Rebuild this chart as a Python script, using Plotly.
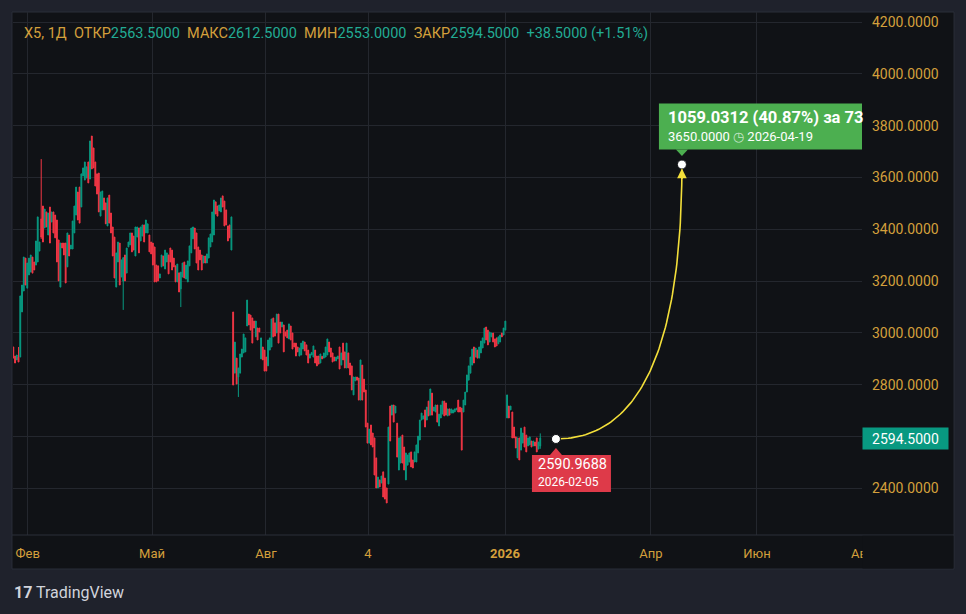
import plotly.graph_objects as go

# ---------------- data ----------------
opens = [2946, 2911, 2896, 2907, 2907, 3081, 3162, 3289, 3173, 3224,
         3235, 3293, 3274, 3262, 3274, 3316, 3440, 3490, 3405, 3467,
         3378, 3486, 3428, 3467, 3455, 3436, 3359, 3177, 3347, 3347,
         3347, 3255, 3378, 3324, 3324, 3386, 3455, 3544, 3563, 3486,
         3606, 3590, 3598, 3660, 3594, 3760, 3714, 3660, 3614, 3617,
         3451, 3475, 3521, 3502, 3413, 3532, 3463, 3409, 3370, 3177,
         3274, 3347, 3216, 3200, 3301, 3231, 3332, 3340, 3386, 3374,
         3297, 3370, 3405, 3355, 3374, 3417, 3386, 3386, 3378, 3351,
         3347, 3332, 3262, 3259, 3212, 3255, 3297, 3247, 3274, 3301,
         3328, 3320, 3289, 3259, 3197, 3232, 3170, 3216, 3274, 3208,
         3197, 3259, 3309, 3363, 3405, 3386, 3332, 3320, 3301, 3270,
         3297, 3270, 3289, 3332, 3351, 3378, 3506, 3490, 3471, 3467,
         3529, 3509, 3475, 3413, 3417, 3320, 3081, 2845, 2903, 2830,
         2845, 2907, 2923, 2927, 3027, 3073, 3069, 3058, 3046, 2985,
         3019, 3019, 2900, 2946, 2934, 2907, 2873, 2934, 2946, 3058,
         3039, 3000, 3073, 3042, 3023, 3031, 3004, 3011, 2977, 3027,
         3000, 2961, 2961, 2946, 2911, 2915, 2938, 2965, 2954, 2934,
         2903, 2915, 2907, 2934, 2911, 2911, 2884, 2910, 2903, 2907,
         2915, 2965, 2942, 2923, 2907, 2892, 2900, 2946, 2876, 2961,
         2927, 2865, 2923, 2884, 2873, 2761, 2815, 2830, 2826, 2741,
         2876, 2822, 2780, 2652, 2575, 2645, 2614, 2595, 2518, 2402,
         2433, 2421, 2464, 2440, 2402, 2417, 2718, 2683, 2722, 2691,
         2652, 2471, 2498, 2606, 2560, 2433, 2490, 2502, 2541, 2510,
         2502, 2502, 2537, 2587, 2664, 2668, 2703, 2664, 2737, 2683,
         2768, 2699, 2695, 2722, 2641, 2672, 2687, 2737, 2730, 2680,
         2707, 2691, 2691, 2695, 2703, 2741, 2714, 2710, 2695, 2722,
         2772, 2818, 2845, 2876, 2946, 2907, 2934, 2903, 2923, 2942,
         2961, 3023, 3011, 2965, 2985, 3000, 2977, 2981, 2958, 2965,
         3000, 2992, 3011,
         2672, 2718, 2703, 2695, 2637, 2599, 2518, 2595, 2548, 2575,
         2637, 2606, 2564, 2568, 2583, 2564, 2579, 2595, 2552, 2563.5]

highs = [2946, 2911, 2915, 2946, 3143, 3185, 3293, 3289, 3270, 3289,
         3301, 3293, 3274, 3355, 3448, 3351, 3671, 3490, 3478, 3467,
         3463, 3486, 3467, 3467, 3455, 3436, 3359, 3347, 3347, 3347,
         3347, 3386, 3378, 3339, 3432, 3490, 3563, 3544, 3563, 3614,
         3637, 3660, 3641, 3660, 3741, 3760, 3714, 3660, 3614, 3617,
         3544, 3548, 3521, 3502, 3521, 3532, 3463, 3409, 3370, 3309,
         3351, 3347, 3282, 3293, 3301, 3328, 3351, 3386, 3386, 3374,
         3409, 3409, 3405, 3409, 3417, 3417, 3436, 3421, 3378, 3351,
         3347, 3332, 3262, 3259, 3228, 3301, 3297, 3320, 3309, 3301,
         3328, 3320, 3289, 3259, 3266, 3232, 3235, 3270, 3274, 3262,
         3278, 3336, 3405, 3409, 3405, 3386, 3332, 3320, 3301, 3297,
         3297, 3305, 3367, 3382, 3467, 3513, 3506, 3490, 3494, 3521,
         3529, 3509, 3475, 3413, 3417, 3448, 3081, 2965, 2903, 2865,
         2919, 2938, 2996, 2981, 3127, 3073, 3069, 3058, 3046, 3046,
         3019, 3019, 2981, 2946, 2934, 2907, 2973, 2981, 3054, 3058,
         3039, 3073, 3073, 3042, 3042, 3031, 3004, 3011, 3035, 3027,
         3000, 2961, 2961, 2946, 2942, 2961, 2969, 2965, 2954, 2934,
         2919, 2925, 2950, 2934, 2911, 2911, 2919, 2910, 2923, 2946,
         2977, 2965, 2942, 2923, 2907, 2907, 2911, 2946, 2923, 2961,
         2927, 2961, 2923, 2884, 2873, 2830, 2830, 2830, 2826, 2896,
         2876, 2822, 2780, 2652, 2629, 2645, 2614, 2595, 2518, 2444,
         2433, 2448, 2464, 2440, 2402, 2637, 2718, 2722, 2722, 2718,
         2652, 2595, 2599, 2606, 2560, 2537, 2529, 2537, 2541, 2510,
         2541, 2568, 2602, 2664, 2691, 2680, 2703, 2714, 2737, 2784,
         2768, 2714, 2722, 2722, 2687, 2722, 2737, 2737, 2730, 2707,
         2707, 2707, 2703, 2707, 2710, 2741, 2714, 2710, 2741, 2772,
         2838, 2873, 2907, 2938, 2946, 2942, 2934, 2946, 2969, 2981,
         3019, 3023, 3011, 3004, 3000, 3000, 2977, 2981, 2985, 2992,
         3000, 3019, 3046,
         2761, 2718, 2718, 2695, 2637, 2599, 2595, 2595, 2633, 2614,
         2637, 2606, 2595, 2599, 2583, 2583, 2579, 2595, 2579, 2612.5]

lows = [2903, 2884, 2896, 2888, 2907, 3081, 3162, 3185, 3173, 3224,
        3235, 3231, 3243, 3262, 3274, 3316, 3363, 3351, 3405, 3409,
        3378, 3347, 3428, 3386, 3367, 3274, 3201, 3177, 3328, 3301,
        3193, 3255, 3297, 3324, 3324, 3386, 3455, 3436, 3424, 3486,
        3606, 3590, 3598, 3579, 3594, 3633, 3637, 3567, 3536, 3467,
        3451, 3475, 3475, 3421, 3413, 3424, 3386, 3297, 3212, 3177,
        3274, 3185, 3216, 3089, 3201, 3231, 3332, 3340, 3313, 3320,
        3297, 3370, 3309, 3355, 3374, 3351, 3386, 3386, 3313, 3305,
        3262, 3197, 3197, 3201, 3212, 3255, 3259, 3247, 3274, 3228,
        3274, 3243, 3255, 3197, 3197, 3158, 3100, 3216, 3212, 3208,
        3197, 3259, 3309, 3363, 3324, 3270, 3243, 3282, 3243, 3270,
        3270, 3270, 3289, 3332, 3351, 3378, 3459, 3451, 3471, 3467,
        3486, 3413, 3417, 3355, 3367, 3320, 2799, 2845, 2803, 2753,
        2845, 2907, 2923, 2927, 3027, 3031, 3011, 2961, 3019, 2985,
        2973, 3004, 2900, 2896, 2853, 2853, 2873, 2934, 2946, 2985,
        2988, 3000, 2961, 3000, 3023, 2927, 2988, 2981, 2977, 2973,
        2938, 2946, 2911, 2927, 2911, 2915, 2938, 2931, 2915, 2884,
        2903, 2915, 2907, 2884, 2873, 2880, 2884, 2900, 2903, 2907,
        2915, 2927, 2907, 2888, 2892, 2892, 2900, 2861, 2876, 2896,
        2865, 2865, 2865, 2838, 2780, 2761, 2815, 2818, 2741, 2741,
        2741, 2772, 2637, 2575, 2575, 2568, 2560, 2452, 2402, 2402,
        2406, 2421, 2367, 2359, 2344, 2417, 2583, 2683, 2656, 2691,
        2521, 2471, 2498, 2498, 2471, 2433, 2490, 2502, 2483, 2479,
        2502, 2502, 2537, 2587, 2664, 2668, 2637, 2664, 2680, 2683,
        2683, 2699, 2695, 2656, 2641, 2672, 2687, 2680, 2683, 2680,
        2683, 2691, 2691, 2695, 2703, 2695, 2695, 2548, 2695, 2722,
        2772, 2818, 2845, 2876, 2884, 2907, 2903, 2903, 2923, 2942,
        2961, 2973, 2954, 2965, 2985, 2965, 2946, 2950, 2958, 2965,
        2985, 2992, 3011,
        2672, 2672, 2703, 2595, 2595, 2556, 2518, 2510, 2548, 2575,
        2560, 2541, 2564, 2568, 2560, 2564, 2564, 2541, 2552, 2553]

closes = [2903, 2884, 2915, 2888, 3143, 3185, 3293, 3185, 3270, 3289,
          3301, 3231, 3243, 3355, 3448, 3351, 3370, 3351, 3478, 3409,
          3463, 3347, 3467, 3386, 3367, 3274, 3201, 3347, 3328, 3301,
          3193, 3386, 3297, 3339, 3432, 3490, 3563, 3436, 3424, 3614,
          3637, 3660, 3641, 3579, 3741, 3633, 3637, 3567, 3536, 3467,
          3544, 3548, 3475, 3421, 3521, 3424, 3386, 3297, 3212, 3309,
          3351, 3185, 3282, 3290, 3201, 3328, 3351, 3386, 3313, 3320,
          3409, 3409, 3309, 3409, 3417, 3351, 3436, 3421, 3313, 3305,
          3262, 3197, 3197, 3201, 3228, 3301, 3259, 3320, 3309, 3228,
          3274, 3243, 3255, 3197, 3266, 3158, 3235, 3270, 3212, 3262,
          3278, 3336, 3405, 3409, 3324, 3270, 3243, 3282, 3243, 3297,
          3270, 3305, 3367, 3382, 3467, 3513, 3459, 3451, 3494, 3521,
          3486, 3413, 3417, 3355, 3367, 3448, 2799, 2965, 2803, 2865,
          2919, 2938, 2996, 2981, 3127, 3031, 3011, 2961, 3019, 3046,
          2973, 3004, 2981, 2896, 2853, 2853, 2973, 2981, 3054, 2985,
          2988, 3073, 2961, 3000, 3042, 2927, 2988, 2981, 3035, 2973,
          2938, 2946, 2911, 2927, 2942, 2961, 2969, 2931, 2915, 2884,
          2919, 2925, 2950, 2884, 2873, 2880, 2919, 2900, 2923, 2946,
          2977, 2927, 2907, 2888, 2892, 2907, 2911, 2861, 2923, 2896,
          2865, 2961, 2865, 2838, 2780, 2830, 2830, 2818, 2741, 2896,
          2741, 2772, 2637, 2575, 2629, 2568, 2560, 2452, 2402, 2444,
          2406, 2448, 2367, 2359, 2344, 2637, 2583, 2722, 2656, 2718,
          2521, 2595, 2599, 2498, 2471, 2537, 2529, 2537, 2483, 2479,
          2541, 2568, 2602, 2664, 2691, 2680, 2637, 2714, 2680, 2784,
          2683, 2714, 2722, 2656, 2687, 2722, 2737, 2680, 2683, 2707,
          2683, 2707, 2703, 2707, 2710, 2695, 2695, 2548, 2741, 2772,
          2838, 2873, 2907, 2938, 2884, 2942, 2903, 2946, 2969, 2981,
          3019, 2973, 2954, 3004, 3000, 2965, 2946, 2950, 2985, 2992,
          2985, 3019, 3046,
          2761, 2672, 2718, 2595, 2595, 2556, 2595, 2510, 2633, 2614,
          2560, 2541, 2595, 2599, 2560, 2583, 2564, 2541, 2579, 2594.5]

# time-axis labels (bar-index positions) and price ticks
time_tick_pos = [8.25, 79.5, 144.8, 203.3, 281.8, 365.4, 426.2, 486.2]
time_tick_text = ["Фев", "Май", "Авг", "4", "<b>2026</b>", "Апр", "Июн", "Авг"]
price_ticks = [2400, 2600, 2800, 3000, 3200, 3400, 3600, 3800, 4000, 4200]

symbol = "X5, 1Д"
last_change = 38.5
last_change_pct = 1.51

# curve drawing anchors
start_idx, start_price, start_date = 311.0, 2590.9688, "2026-02-05"
end_idx, end_price, end_date = 383.2, 3650.0, "2026-04-19"
move_abs, move_pct, move_days = 1059.0312, 40.87, 73

# ---------------- styling ----------------
UP = "#089981"
DOWN = "#f23645"
AMBER = "#d4a03c"
TEAL = "#22ab94"
PANE = "#101216"
OUTER = "#1f222c"
GRID = "#24272e"
BORDER = "#2a2e39"
YELLOW = "#f3df3a"
FONT = "Roboto"

x_idx = list(range(len(opens)))

fig = go.Figure()
fig.add_trace(go.Candlestick(
    x=x_idx, open=opens, high=highs, low=lows, close=closes,
    increasing=dict(line=dict(color=UP, width=1), fillcolor=UP),
    decreasing=dict(line=dict(color=DOWN, width=1), fillcolor=DOWN),
    whiskerwidth=0, hoverinfo="skip", showlegend=False))

# bezier curve between anchors (control point under the end point)
n = 80
cx, cy = [], []
for k in range(n + 1):
    t = k / n
    cx.append((1 - t) ** 2 * start_idx + 2 * t * (1 - t) * end_idx + t * t * end_idx)
    cy.append((1 - t) ** 2 * start_price + 2 * t * (1 - t) * start_price + t * t * end_price)
fig.add_trace(go.Scatter(x=cx, y=cy, mode="lines", line=dict(color=YELLOW, width=1.6),
                         hoverinfo="skip", showlegend=False))

shapes = []
# pane background & borders
shapes.append(dict(type="rect", xref="paper", yref="paper", x0=-0.0012, x1=1.1084,
                   y0=-0.0650, y1=1.0, fillcolor=PANE, line=dict(color=BORDER, width=1), layer="below"))
shapes.append(dict(type="line", xref="paper", yref="paper", x0=-0.0012, x1=1.1084, y0=0, y1=0,
                   line=dict(color=BORDER, width=1), layer="above"))
# red label box + pointer
shapes.append(dict(type="rect", xref="x", yref="y", xsizemode="pixel", ysizemode="pixel",
                   xanchor=start_idx, yanchor=start_price, x0=-24, x1=55, y0=-16, y1=-53,
                   fillcolor="#de3a49", line=dict(width=0), layer="above"))
shapes.append(dict(type="path", xref="x", yref="y", xsizemode="pixel", ysizemode="pixel",
                   xanchor=start_idx, yanchor=start_price, path="M -6,-16 L 6,-16 L 0,-9 Z",
                   fillcolor="#de3a49", line=dict(width=0), layer="above"))
# green label box + pointer
shapes.append(dict(type="rect", xref="x", yref="y", xsizemode="pixel", ysizemode="pixel",
                   xanchor=end_idx, yanchor=end_price, x0=-23, x1=240, y0=15, y1=61,
                   fillcolor="#4caf50", line=dict(width=0), layer="above"))
shapes.append(dict(type="path", xref="x", yref="y", xsizemode="pixel", ysizemode="pixel",
                   xanchor=end_idx, yanchor=end_price, path="M -6,15 L 6,15 L 0,8.5 Z",
                   fillcolor="#4caf50", line=dict(width=0), layer="above"))
# mask the clipped right-most time label
shapes.append(dict(type="rect", xref="paper", yref="paper", x0=1.0006, x1=1.1075,
                   y0=-0.0640, y1=-0.0012, fillcolor=PANE, line=dict(width=0), layer="above"))

# dots
fig.add_trace(go.Scatter(x=[start_idx, end_idx], y=[start_price, end_price], mode="markers",
                         marker=dict(color="white", size=9, line=dict(color=PANE, width=1)),
                         hoverinfo="skip", showlegend=False, cliponaxis=False))

nb = "\u00a0"
def amb(s):
    return f'<span style="color:{AMBER}">{s}</span>'
def tl(s):
    return f'<span style="color:{TEAL}">{s}</span>'
header = (amb(symbol) + nb * 2 + amb("ОТКР") + tl(f"{opens[-1]:.4f}") + nb * 2 +
          amb("МАКС") + tl(f"{highs[-1]:.4f}") + nb * 2 + amb("МИН") + tl(f"{lows[-1]:.4f}") + nb * 2 +
          amb("ЗАКР") + tl(f"{closes[-1]:.4f}") + nb * 2 +
          tl(f"+{last_change:.4f} (+{last_change_pct:.2f}%)"))

# price tick labels: the 2600 label sits under the last-price badge
price_tick_text = ["" if abs(v - closes[-1]) < 40 else f"{v:.4f}" for v in price_ticks]

annotations = [
    dict(xref="paper", yref="paper", x=0, y=1, xanchor="left", yanchor="middle",
         xshift=9, yshift=-21, text=header, showarrow=False,
         font=dict(family=FONT, size=14.5)),
    dict(xref="paper", yref="y", x=1, y=closes[-1], xanchor="left", yanchor="middle",
         text=f"{closes[-1]:.4f}", showarrow=False, bgcolor=UP, borderpad=3,
         width=79, height=15, align="center", font=dict(family=FONT, size=14, color="white")),
    # red label text
    dict(xref="x", yref="y", x=start_idx, y=start_price, xanchor="left", yanchor="middle",
         xshift=-20, yshift=-26, text=f"{start_price:.4f}", showarrow=False,
         font=dict(family=FONT, size=14.5, color="white")),
    dict(xref="x", yref="y", x=start_idx, y=start_price, xanchor="left", yanchor="middle",
         xshift=-20, yshift=-43, text=start_date, showarrow=False,
         font=dict(family=FONT, size=12, color="white")),
    # green label text
    dict(xref="x", yref="y", x=end_idx, y=end_price, xanchor="left", yanchor="middle",
         xshift=-16, yshift=47, text=f"<b>{move_abs:.4f} ({move_pct:.2f}%) за {move_days}</b>",
         showarrow=False, font=dict(family=FONT, size=16.5, color="white")),
    dict(xref="x", yref="y", x=end_idx, y=end_price, xanchor="left", yanchor="middle",
         xshift=-16, yshift=28,
         text=f'{end_price:.4f} <span style="color:rgba(255,255,255,0.7)">◷</span> {end_date}',
         showarrow=False, font=dict(family=FONT, size=13, color="white")),
    # arrow head at the curve end
    dict(xref="x", yref="y", x=end_idx, y=end_price, ax=0, ay=16, text="", showarrow=True,
         arrowhead=2, arrowsize=1.2, arrowwidth=1.6, arrowcolor=YELLOW, standoff=4),
    # TradingView logo
    dict(xref="paper", yref="paper", x=0, y=0, xanchor="left", yanchor="middle",
         xshift=-1, yshift=-57, showarrow=False,
         text='<b>17</b> TradingView', font=dict(family=FONT, size=16, color="#d1d4dc")),
]

fig.update_layout(
    width=966, height=614, autosize=False,
    margin=dict(l=13, r=104, t=12, b=79),
    paper_bgcolor=OUTER, plot_bgcolor=PANE,
    shapes=shapes, annotations=annotations, showlegend=False,
    hovermode=False,
    xaxis=dict(range=[-0.17, 486.4], rangeslider=dict(visible=False), showgrid=True,
               gridcolor=GRID, gridwidth=1, zeroline=False, showline=False,
               tickmode="array", tickvals=time_tick_pos, ticktext=time_tick_text, ticks="",
               ticklabelstandoff=9, tickfont=dict(family=FONT, size=13, color=AMBER),
               fixedrange=True),
    yaxis=dict(range=[2220.4, 4238.6], side="right", showgrid=True, gridcolor=GRID,
               gridwidth=1, zeroline=False, showline=False, tickmode="array",
               tickvals=price_ticks, ticktext=price_tick_text, ticks="", ticklabelstandoff=9,
               tickfont=dict(family=FONT, size=14, color=AMBER), fixedrange=True),
)

fig.write_html("out.html")
